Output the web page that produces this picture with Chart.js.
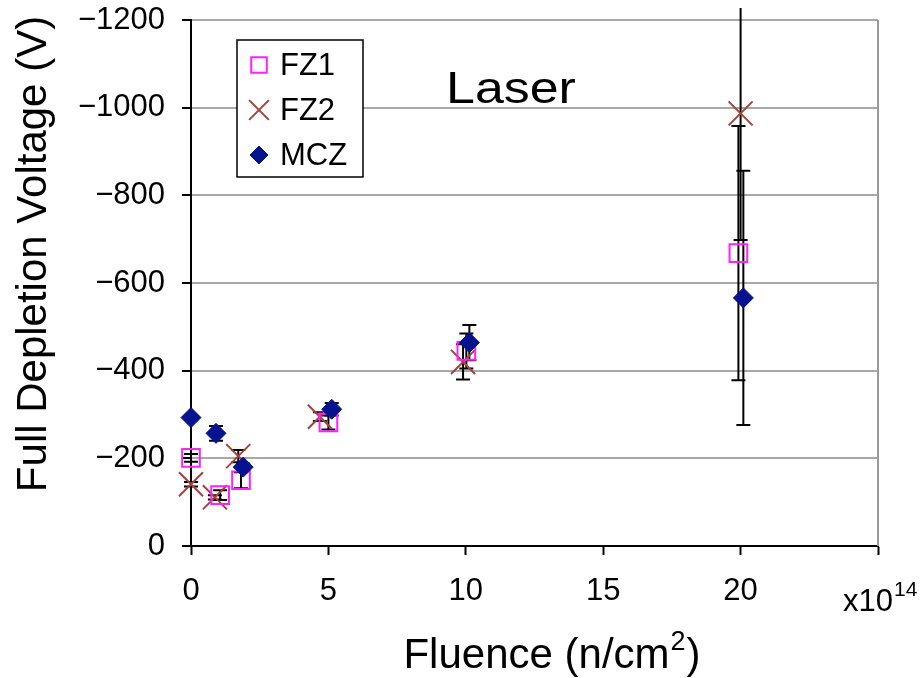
<!DOCTYPE html>
<html>
<head>
<meta charset="utf-8">
<script src="https://cdn.jsdelivr.net/npm/chart.js@4.4.1/dist/chart.umd.min.js"></script>
<style>
  html, body { margin: 0; padding: 0; background: #ffffff; }
  #wrap { width: 923px; height: 678px; }
</style>
</head>
<body>
<div id="wrap"><canvas id="chart" width="923" height="678"></canvas></div>
<script>
// Full depletion voltage vs. neutron fluence (laser measurement)
const seriesNames = ['FZ1', 'FZ2', 'MCZ'];

// fluence in units of 1e14 n/cm^2, voltage in V, symmetric error in V
const fz1Fluence = [0, 1.06, 1.82, 5.0, 10.02, 19.92];
const fz1Voltage = [-201, -116, -150, -282, -445, -668];
const fz1Error   = [9, 11, 18, 16, 40, 290];

const fz2Fluence = [0, 0.87, 1.72, 4.69, 9.9, 20.0];
const fz2Voltage = [-141, -111, -205, -295, -420, -987];
const fz2Error   = [5, 5, 14, 10, 40, 289];

const mczFluence = [0, 0.91, 1.9, 5.12, 10.13, 20.1];
const mczVoltage = [-293, -257, -180, -312, -464, -566];
const mczError   = [5, 17, 8, 14, 40, 290];

const xTickValues = [0, 5, 10, 15, 20, 25];
const xTickLabels = ['0', '5', '10', '15', '20', ''];
const yTickValues = [0, -200, -400, -600, -800, -1000, -1200];
const yTickLabels = ['0', '\u2212200', '\u2212400', '\u2212600', '\u2212800', '\u22121000', '\u22121200'];

const xAxisTitle = 'Fluence (n/cm';
const xAxisTitleSup = '2';
const xAxisTitleEnd = ')';
const xUnitText = 'x10';
const xUnitExp = '14';
const yAxisTitle = 'Full Depletion Voltage (V)';
const panelLabel = 'Laser';

const FONT = '"Liberation Sans", Arial, Helvetica, sans-serif';

function toPoints(xs, ys, es) {
  return xs.map((x, i) => ({ x: x, y: ys[i], err: es[i] }));
}

const datasets = [
  {
    label: seriesNames[0],
    data: toPoints(fz1Fluence, fz1Voltage, fz1Error),
    pointStyle: 'rect',
    pointRadius: 12.5,
    pointHoverRadius: 12.5,
    borderColor: '#ff22ff',
    backgroundColor: 'rgba(0,0,0,0)',
    pointBorderWidth: 2,
    showLine: false,
    clip: false,
    order: 1
  },
  {
    label: seriesNames[1],
    data: toPoints(fz2Fluence, fz2Voltage, fz2Error),
    pointStyle: 'crossRot',
    pointRadius: 17,
    pointHoverRadius: 17,
    borderColor: '#a4423c',
    backgroundColor: '#a4423c',
    pointBorderWidth: 2,
    showLine: false,
    clip: false,
    order: 2
  },
  {
    label: seriesNames[2],
    data: toPoints(mczFluence, mczVoltage, mczError),
    pointStyle: 'rectRot',
    pointRadius: 10,
    pointHoverRadius: 10,
    borderColor: '#05138f',
    backgroundColor: '#05138f',
    pointBorderWidth: 1,
    showLine: false,
    clip: false,
    order: 0
  }
];

// vertical error bars with caps, drawn beneath the markers
const errorBars = {
  id: 'errorBars',
  beforeDatasetsDraw(chart) {
    const { ctx, chartArea, scales } = chart;
    const xs = scales.x, ys = scales.y;
    ctx.save();
    ctx.beginPath();
    ctx.rect(chartArea.left - 20, chartArea.top - 12, chartArea.right - chartArea.left + 40, chartArea.bottom - chartArea.top + 12);
    ctx.clip();
    ctx.strokeStyle = '#000000';
    ctx.lineWidth = 2;
    const cap = 7;
    chart.data.datasets.forEach((ds) => {
      ds.data.forEach((p) => {
        const px = xs.getPixelForValue(p.x);
        const y1 = ys.getPixelForValue(p.y - p.err);
        const y2 = ys.getPixelForValue(p.y + p.err);
        ctx.beginPath();
        ctx.moveTo(px, y1); ctx.lineTo(px, y2);
        ctx.moveTo(px - cap, y1); ctx.lineTo(px + cap, y1);
        ctx.moveTo(px - cap, y2); ctx.lineTo(px + cap, y2);
        ctx.stroke();
      });
    });
    ctx.restore();
  }
};

// axis titles, unit multiplier, panel label, legend box and right frame line
const decorations = {
  id: 'decorations',
  afterDraw(chart) {
    const { ctx, chartArea } = chart;
    ctx.save();

    // right frame line
    ctx.strokeStyle = '#9a9a9a';
    ctx.lineWidth = 2;
    ctx.beginPath();
    ctx.moveTo(chartArea.right, chartArea.top);
    ctx.lineTo(chartArea.right, chartArea.bottom);
    ctx.stroke();

    ctx.fillStyle = '#000000';

    // y axis title
    ctx.save();
    ctx.translate(46, 254);
    ctx.rotate(-Math.PI / 2);
    ctx.font = '42px ' + FONT;
    ctx.textAlign = 'center';
    ctx.textBaseline = 'alphabetic';
    ctx.fillText(yAxisTitle, 0, 0);
    ctx.restore();

    // x axis title with superscript
    ctx.textBaseline = 'alphabetic';
    ctx.textAlign = 'left';
    const bigFont = '42px ' + FONT;
    const supFont = '27px ' + FONT;
    ctx.font = bigFont;
    const w1 = ctx.measureText(xAxisTitle).width;
    const w3 = ctx.measureText(xAxisTitleEnd).width;
    ctx.font = supFont;
    const w2 = ctx.measureText(xAxisTitleSup).width;
    const total = w1 + w2 + 2 + w3;
    const tx = 552 - total / 2;
    const ty = 668;
    ctx.font = bigFont;
    ctx.fillText(xAxisTitle, tx, ty);
    ctx.font = supFont;
    ctx.fillText(xAxisTitleSup, tx + w1 + 1, ty - 18);
    ctx.font = bigFont;
    ctx.fillText(xAxisTitleEnd, tx + w1 + w2 + 2, ty);

    // unit multiplier under the last x tick
    ctx.font = '31px ' + FONT;
    ctx.fillText(xUnitText, 843, 611);
    const wu = ctx.measureText(xUnitText).width;
    ctx.font = '21px ' + FONT;
    ctx.fillText(xUnitExp, 843 + wu + 1, 596);

    // panel label
    ctx.save();
    ctx.translate(446, 103);
    ctx.scale(1.18, 1);
    ctx.font = '44px ' + FONT;
    ctx.fillText(panelLabel, 0, 0);
    ctx.restore();

    // legend
    const lx = 237, ly = 40, lw = 126, lh = 137;
    ctx.fillStyle = '#ffffff';
    ctx.fillRect(lx, ly, lw, lh);
    ctx.strokeStyle = '#000000';
    ctx.lineWidth = 1.5;
    ctx.strokeRect(lx, ly, lw, lh);
    const rowY = [65, 110, 155];
    const legendRadius = [11, 14, 9];
    chart.data.datasets.forEach((ds, i) => {
      ctx.save();
      ctx.strokeStyle = ds.borderColor;
      ctx.fillStyle = ds.backgroundColor;
      ctx.lineWidth = ds.pointBorderWidth;
      Chart.helpers.drawPoint(ctx, {
        pointStyle: ds.pointStyle,
        radius: legendRadius[i],
        rotation: 0,
        borderWidth: ds.pointBorderWidth
      }, 259, rowY[i]);
      ctx.restore();
      ctx.fillStyle = '#000000';
      ctx.font = '31px ' + FONT;
      ctx.textAlign = 'left';
      ctx.textBaseline = 'middle';
      ctx.fillText(ds.label, 280, rowY[i] + 1);
    });

    ctx.restore();
  }
};

new Chart(document.getElementById('chart'), {
  type: 'scatter',
  data: { datasets: datasets },
  options: {
    responsive: false,
    devicePixelRatio: 1,
    animation: false,
    layout: { padding: { left: 0, top: 20, right: 45, bottom: 0 } },
    plugins: {
      legend: { display: false },
      tooltip: { enabled: false }
    },
    scales: {
      x: {
        type: 'linear',
        min: 0,
        max: 25,
        afterBuildTicks(scale) { scale.ticks = xTickValues.map(v => ({ value: v })); },
        afterFit(scale) {
          scale.height = 132;
          scale.paddingLeft = 0; scale.paddingRight = 0;
          scale.paddingTop = 0; scale.paddingBottom = 0;
        },
        ticks: {
          color: '#000000',
          font: { family: FONT, size: 31 },
          padding: 18,
          maxRotation: 0,
          autoSkip: false,
          callback(value, index) { return xTickLabels[index]; }
        },
        grid: {
          display: true,
          drawOnChartArea: false,
          drawTicks: true,
          tickLength: 9,
          tickColor: '#000000',
          tickWidth: 2
        },
        border: { display: true, color: '#000000', width: 2 }
      },
      y: {
        type: 'linear',
        min: -1200,
        max: 0,
        reverse: true,
        afterBuildTicks(scale) { scale.ticks = yTickValues.map(v => ({ value: v })); },
        afterFit(scale) {
          scale.width = 191;
          scale.paddingLeft = 0; scale.paddingRight = 0;
          scale.paddingTop = 0; scale.paddingBottom = 0;
        },
        ticks: {
          color: '#000000',
          font: { family: FONT, size: 31 },
          padding: 17,
          autoSkip: false,
          callback(value, index) { return yTickLabels[index]; }
        },
        grid: {
          display: true,
          drawOnChartArea: true,
          color(ctx) { return ctx.tick && ctx.tick.value === 0 ? 'rgba(0,0,0,0)' : '#a8a8a8'; },
          lineWidth: 2,
          drawTicks: true,
          tickLength: 9,
          tickColor: '#000000',
          tickWidth: 2
        },
        border: { display: true, color: '#000000', width: 2 }
      }
    }
  },
  plugins: [errorBars, decorations]
});
</script>
</body>
</html>
